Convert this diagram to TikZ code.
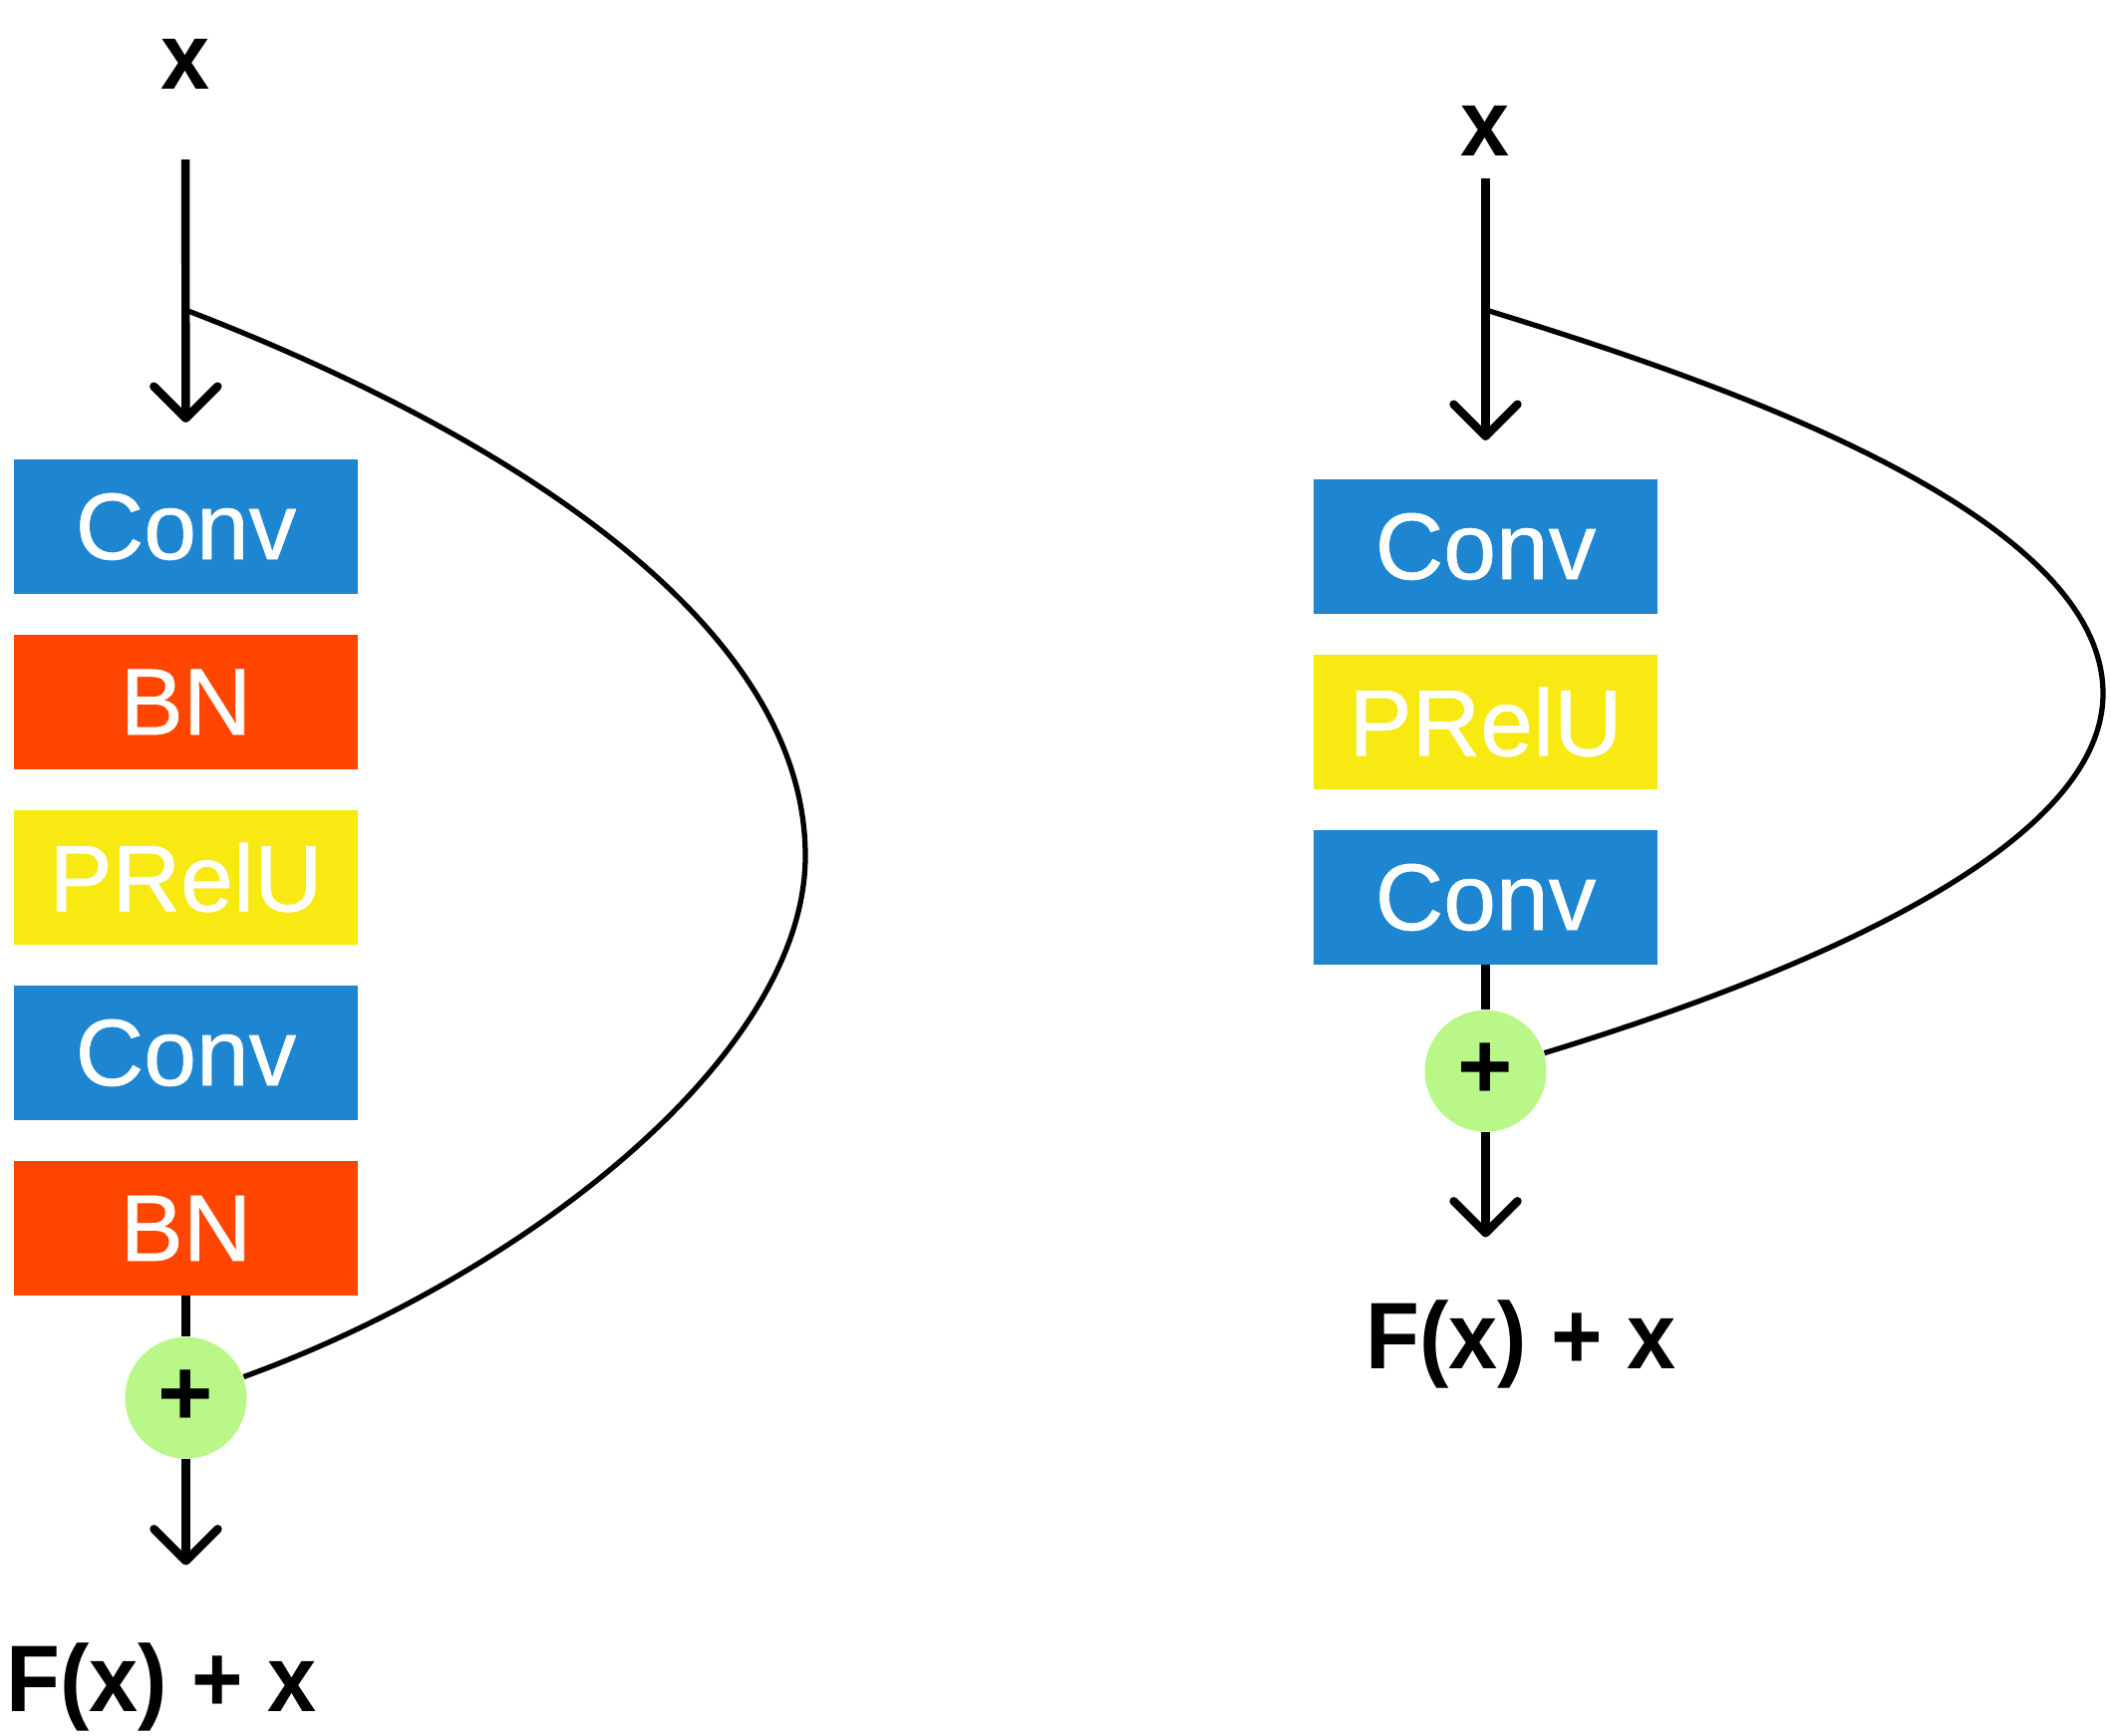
\documentclass[tikz,border=0pt]{standalone}
\usepackage{fontspec}
\setmainfont{Liberation Sans}
\newfontfamily\layerfont{Liberation Sans}[FakeBold=0.7]
\newfontfamily\iofont{Liberation Sans}[FakeStretch=0.93]
\usepackage{tikz}
\usetikzlibrary{arrows.meta,calc,positioning}
\definecolor{convblue}{RGB}{30,133,208}
\definecolor{bnred}{RGB}{255,69,0}
\definecolor{preluyellow}{RGB}{247,233,17}
\definecolor{sumgreen}{RGB}{185,247,136}
\tikzset{
	res block/.style={
		node distance=0.41cm and 0.41cm,
		ar/.style={line width=2.4pt, -{Straight Barb[length=3.2mm,width=6.4mm,round]}},
		wire/.style={line width=2.4pt},
		skip/.style={line width=1.5pt},
		},
	layer/.style={minimum width=3.45cm, minimum height=1.35cm,
		inner sep=0pt, outer sep=0pt, text=white,
		font=\layerfont\fontsize{27}{30}\selectfont},
	conv/.style={layer, fill=convblue},
	bn/.style={layer, fill=bnred},
	prelu/.style={layer, fill=preluyellow},
	sum/.style={circle, fill=sumgreen, minimum size=1.22cm, inner sep=0pt,
		font=\fontsize{27}{30}\selectfont\bfseries},
	io/.style={inner sep=0pt, font=\iofont\fontsize{27}{30}\selectfont\bfseries}
}

\begin{document}
\begin{tikzpicture}[res block]
   \useasboundingbox (0,0) rectangle (21.18,17.42);
   % left block: Conv-BN-PRelU-Conv-BN
   \node[conv] (convL1) at (1.865,12.135) {Conv};
   \node[bn, below=of convL1] (bnL1) {BN};
   \node[prelu, below=of bnL1] (preluL) {PRelU};
   \node[conv, below=of preluL] (convL2) {Conv};
   \node[bn, below=of convL2] (bnL2) {BN};
   \node[sum, below=of bnL2] (sumL) {+};
   \node[io] (xL) at (1.86,16.775) {x};
   \node[io, anchor=base] (outL) at (1.62,0.24) {F(x) + x};
   \coordinate (skipL) at (1.86,14.31);
   \coordinate (turnL) at (8.08,8.83);
   \draw[ar, shorten <=7mm, shorten >=3.7mm] (xL) -- (convL1);
   \draw[wire] (bnL2) -- (sumL);
   \draw[ar, shorten >=7.8mm] (sumL) -- (sumL |- outL.north);
   \draw[skip] (skipL) .. controls +(-21:3) and +(0,2.5) .. (turnL)
      .. controls +(0,-2) and +(20:3) .. (sumL.20);
   % right block: Conv-PRelU-Conv
   \node[conv] (convR1) at (14.905,11.935) {Conv};
   \node[prelu, below=of convR1] (preluR) {PRelU};
   \node[conv, below=of preluR] (convR2) {Conv};
   \node[sum, below=0.45cm of convR2] (sumR) {+};
   \node[io] (xR) at (14.905,16.105) {x};
   \node[io, anchor=base] (outR) at (15.26,3.68) {F(x) + x};
   \coordinate (skipR) at (14.905,14.31);
   \coordinate (turnR) at (21.1,10.46);
   \draw[ar, shorten <=2.2mm, shorten >=3.9mm] (xR) -- (convR1);
   \draw[wire] (convR2) -- (sumR);
   \draw[ar, shorten >=6.3mm] (sumR) -- (sumR |- outR.north);
   \draw[skip] (skipR) .. controls +(-17:2.5) and +(0,1.8) .. (turnR)
      .. controls +(0,-1.6) and +(17:2.5) .. (sumR.17);
\end{tikzpicture}
\end{document}
